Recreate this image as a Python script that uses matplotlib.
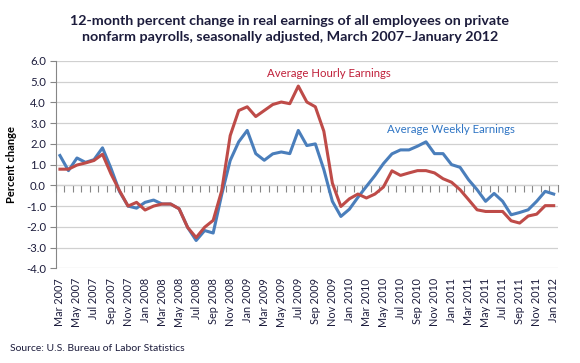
"""Real earnings, 12-month percent change, Mar 2007 - Jan 2012."""

import matplotlib
matplotlib.use("Agg")
import matplotlib.pyplot as plt
import numpy as np

plt.rcParams["font.family"] = ["Lato", "DejaVu Sans"]

# Tick labels: every second month, Mar 2007 .. Jan 2012
TICK_LABELS = [
    "Mar 2007", "May 2007", "Jul 2007", "Sep 2007", "Nov 2007",
    "Jan 2008", "Mar 2008", "May 2008", "Jul 2008", "Sep 2008", "Nov 2008",
    "Jan 2009", "Mar 2009", "May 2009", "Jul 2009", "Sep 2009", "Nov 2009",
    "Jan 2010", "Mar 2010", "May 2010", "Jul 2010", "Sep 2010", "Nov 2010",
    "Jan 2011", "Mar 2011", "May 2011", "Jul 2011", "Sep 2011", "Nov 2011",
    "Jan 2012",
]

# monthly values, Mar 2007 .. Jan 2012 (59 months)
HOURLY = [
    0.78, 0.78, 0.98, 1.08, 1.20, 1.50, 0.55, -0.26, -1.00, -0.82,
    -1.19, -1.00, -0.90, -0.90, -1.13, -2.03, -2.52, -2.02, -1.69, -0.26,
    2.40, 3.61, 3.79, 3.32, 3.61, 3.90, 4.02, 3.94, 4.79, 4.02,
    3.79, 2.61, 0.11, -1.02, -0.65, -0.42, -0.61, -0.42, -0.08, 0.70,
    0.48, 0.60, 0.71, 0.71, 0.60, 0.32, 0.15, -0.21, -0.69, -1.18,
    -1.26, -1.26, -1.26, -1.71, -1.82, -1.48, -1.39, -0.98, -0.98,
]
WEEKLY = [
    1.44, 0.71, 1.32, 1.11, 1.24, 1.81, 0.82, -0.30, -1.00, -1.10,
    -0.82, -0.71, -0.90, -0.90, -1.13, -2.03, -2.66, -2.18, -2.30, -0.45,
    1.20, 2.10, 2.65, 1.53, 1.21, 1.52, 1.61, 1.53, 2.65, 1.92,
    2.00, 0.76, -0.77, -1.50, -1.15, -0.58, -0.05, 0.47, 1.05, 1.52,
    1.71, 1.71, 1.89, 2.10, 1.53, 1.53, 1.00, 0.87, 0.27, -0.21,
    -0.77, -0.39, -0.77, -1.42, -1.31, -1.18, -0.77, -0.29, -0.42,
]

BLUE = "#4A7EBB"
RED = "#BE4B48"
TEXT = "#1C1C3C"
GRID = "#D0D0D0"
AXIS = "#868686"

x = np.arange(len(HOURLY))

fig = plt.figure(figsize=(5.8, 3.63), dpi=100)
ax = fig.add_axes([0.096, 0.261, 0.866, 0.571])

ax.plot(x, WEEKLY, color=BLUE, lw=2.2, solid_joinstyle="round", zorder=3)
ax.plot(x, HOURLY, color=RED, lw=2.2, solid_joinstyle="round", zorder=4)

ax.set_xlim(-0.5, len(x) - 0.5)
ax.set_ylim(-4, 6)
ax.set_yticks(np.arange(-4, 7, 1))
ax.set_yticklabels([f"{v:.1f}" for v in np.arange(-4, 7, 1)])
ax.yaxis.grid(True, color=GRID, lw=0.9)
ax.set_axisbelow(True)

ax.set_xticks(x[::2])
ax.set_xticklabels(TICK_LABELS, rotation=90, fontsize=7.8, color=TEXT)
ax.tick_params(axis="x", length=0, pad=7)
ax.tick_params(axis="y", length=4, color=AXIS, labelsize=8.2,
               labelcolor=TEXT, pad=3)

for side in ("top", "right", "bottom"):
    ax.spines[side].set_visible(False)
ax.spines["left"].set_color(AXIS)

# category axis crossing at zero (0.4 of the way up), ticks between months
zero_axis = ax.secondary_xaxis(0.4)
zero_axis.set_xticks(np.arange(len(x) + 1) - 0.5)
zero_axis.tick_params(axis="x", direction="out", length=5, color=AXIS,
                      labeltop=False, labelbottom=False)
for sp in zero_axis.spines.values():
    sp.set_color(AXIS)

ax.set_ylabel("Percent change", fontsize=8, fontweight="bold", color="black",
              labelpad=6)

ax.text(24.3, 5.4, "Average Hourly Earnings", color="#C0203A", fontsize=8.2,
        ha="left", va="center")
ax.text(38.4, 2.7, "Average Weekly Earnings", color="#2F75C4", fontsize=8.2,
        ha="left", va="center")

fig.text(0.5, 0.958,
         "12-month percent change in real earnings of all employees on private\n"
         "nonfarm payrolls, seasonally adjusted, March 2007\u2013January 2012",
         ha="center", va="top", fontsize=10.3, fontweight="bold", color=TEXT,
         linespacing=1.4)
fig.text(0.017, 0.04, "Source: U.S. Bureau of Labor Statistics", fontsize=7.5,
         color=TEXT, ha="left", va="center")

fig.savefig("out.png", dpi=100)
